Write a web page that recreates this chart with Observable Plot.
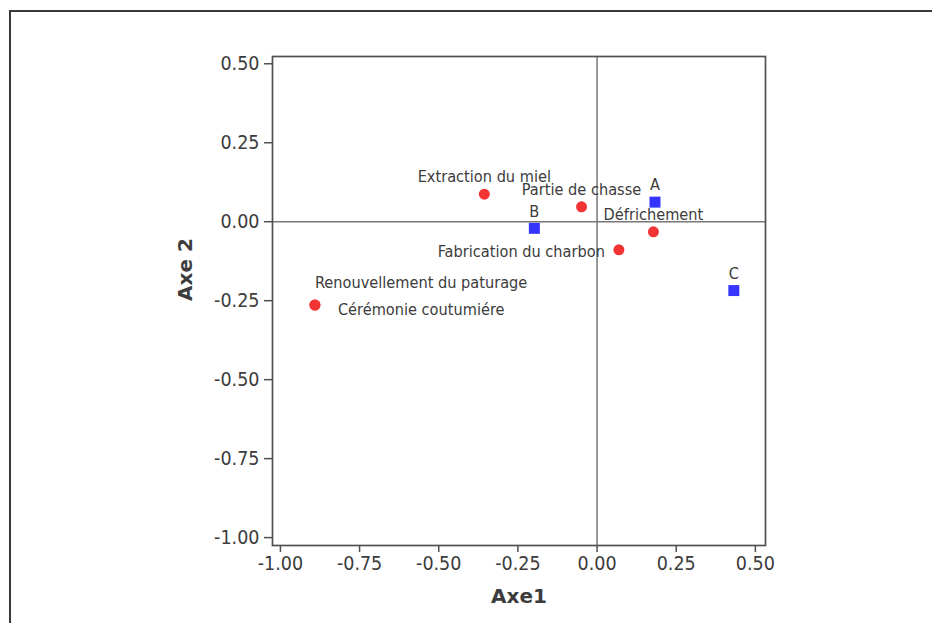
<!DOCTYPE html>
<html>
<head>
<meta charset="utf-8">
<script src="https://cdn.jsdelivr.net/npm/d3@7"></script>
<script src="https://cdn.jsdelivr.net/npm/@observablehq/plot@0.6"></script>
<style>
  html, body { margin: 0; padding: 0; background: #ffffff; }
  #wrap { position: relative; width: 932px; height: 623px; overflow: hidden; }
  #chart { position: absolute; left: 0; top: 0; }
  #border { position: absolute; left: 9px; top: 10px; right: -5px; bottom: -5px;
            border-top: 2px solid #3a3a3a; border-left: 2px solid #3a3a3a; pointer-events: none; }
</style>
</head>
<body>
<div id="wrap"><div id="chart"></div><div id="border"></div></div>
<script>
// Activities (red points)
const activityNames = ["Extraction du miel", "Partie de chasse", "Défrichement", "Fabrication du charbon", "Renouvellement du paturage", "Cérémonie coutumiére"];
const activityAxe1 = [-0.356, -0.049, 0.178, 0.069, -0.891, -0.891];
const activityAxe2 = [0.087, 0.047, -0.032, -0.089, -0.264, -0.264];

// Groups (blue squares)
const groupNames = ["A", "B", "C"];
const groupAxe1 = [0.183, -0.198, 0.432];
const groupAxe2 = [0.062, -0.021, -0.218];

// Ticks
const xTicks = [-1.00, -0.75, -0.50, -0.25, 0.00, 0.25, 0.50];
const yTicks = [0.50, 0.25, 0.00, -0.25, -0.50, -0.75, -1.00];

const activities = activityNames.map((name, i) => ({name, x: activityAxe1[i], y: activityAxe2[i]}));
const groups = groupNames.map((name, i) => ({name, x: groupAxe1[i], y: groupAxe2[i]}));

const FONT = "'DejaVu Sans Condensed', 'DejaVu Sans', sans-serif";
const textColor = "#3c3c3c";
const red = "#f23434";
const blue = "#3535ff";
const fmt = d => d.toFixed(2);

const above = new Set(["Extraction du miel", "Partie de chasse", "Défrichement"]);

const chart = Plot.plot({
  width: 932,
  height: 623,
  marginLeft: 272,
  marginRight: 167,
  marginTop: 56,
  marginBottom: 78,
  style: {fontFamily: FONT, color: textColor, background: "transparent"},
  x: {domain: [-1.025, 0.532], label: null},
  y: {domain: [-1.025, 0.523], label: null},
  marks: [
    Plot.ruleX([0], {stroke: "#777777", strokeWidth: 1.5}),
    Plot.ruleY([0], {stroke: "#777777", strokeWidth: 1.5}),
    Plot.frame({stroke: "#505050", strokeWidth: 1.7}),
    Plot.axisX(xTicks, {anchor: "bottom", tickFormat: fmt, tickSize: 7, tickPadding: 4, fontSize: 19.5, stroke: "#505050", strokeWidth: 1.5, color: textColor, label: null}),
    Plot.axisY(yTicks, {anchor: "left", tickFormat: fmt, tickSize: 8, tickPadding: 5, fontSize: 19.5, stroke: "#505050", strokeWidth: 1.5, color: textColor, label: null}),
    Plot.dot(activities, {x: "x", y: "y", r: 5.5, fill: red, stroke: "none"}),
    Plot.dot(groups, {x: "x", y: "y", symbol: "square", r: 6.2, fill: blue, stroke: "none"}),
    // labels above points
    Plot.text(activities.filter(d => above.has(d.name)), {x: "x", y: "y", text: "name", dy: -17, fontSize: 16.2, fill: textColor, textAnchor: "middle"}),
    Plot.text(groups, {x: "x", y: "y", text: "name", dy: -17, fontSize: 16.2, fill: textColor, textAnchor: "middle"}),
    // label left of point
    Plot.text(activities.filter(d => d.name === "Fabrication du charbon"), {x: "x", y: "y", text: "name", dx: -14, dy: 1.5, fontSize: 16.2, fill: textColor, textAnchor: "end"}),
    // labels of the shared point
    Plot.text(activities.filter(d => d.name === "Renouvellement du paturage"), {x: "x", y: "y", text: "name", dx: 0, dy: -22, fontSize: 16.2, fill: textColor, textAnchor: "start"}),
    Plot.text(activities.filter(d => d.name === "Cérémonie coutumiére"), {x: "x", y: "y", text: "name", dx: 23, dy: 5, fontSize: 16.2, fill: textColor, textAnchor: "start"}),
    // axis titles
    Plot.text(["Axe1"], {frameAnchor: "bottom", dy: 51, text: d => d, fontSize: 20, fontWeight: "bold", fill: textColor, lineAnchor: "middle", fontFamily: "'DejaVu Sans', sans-serif"}),
    Plot.text(["Axe 2"], {frameAnchor: "left", dx: -87, text: d => d, rotate: -90, fontSize: 20, fontWeight: "bold", fill: textColor, lineAnchor: "middle", fontFamily: "'DejaVu Sans', sans-serif"})
  ]
});
document.getElementById("chart").appendChild(chart);
</script>
</body>
</html>
